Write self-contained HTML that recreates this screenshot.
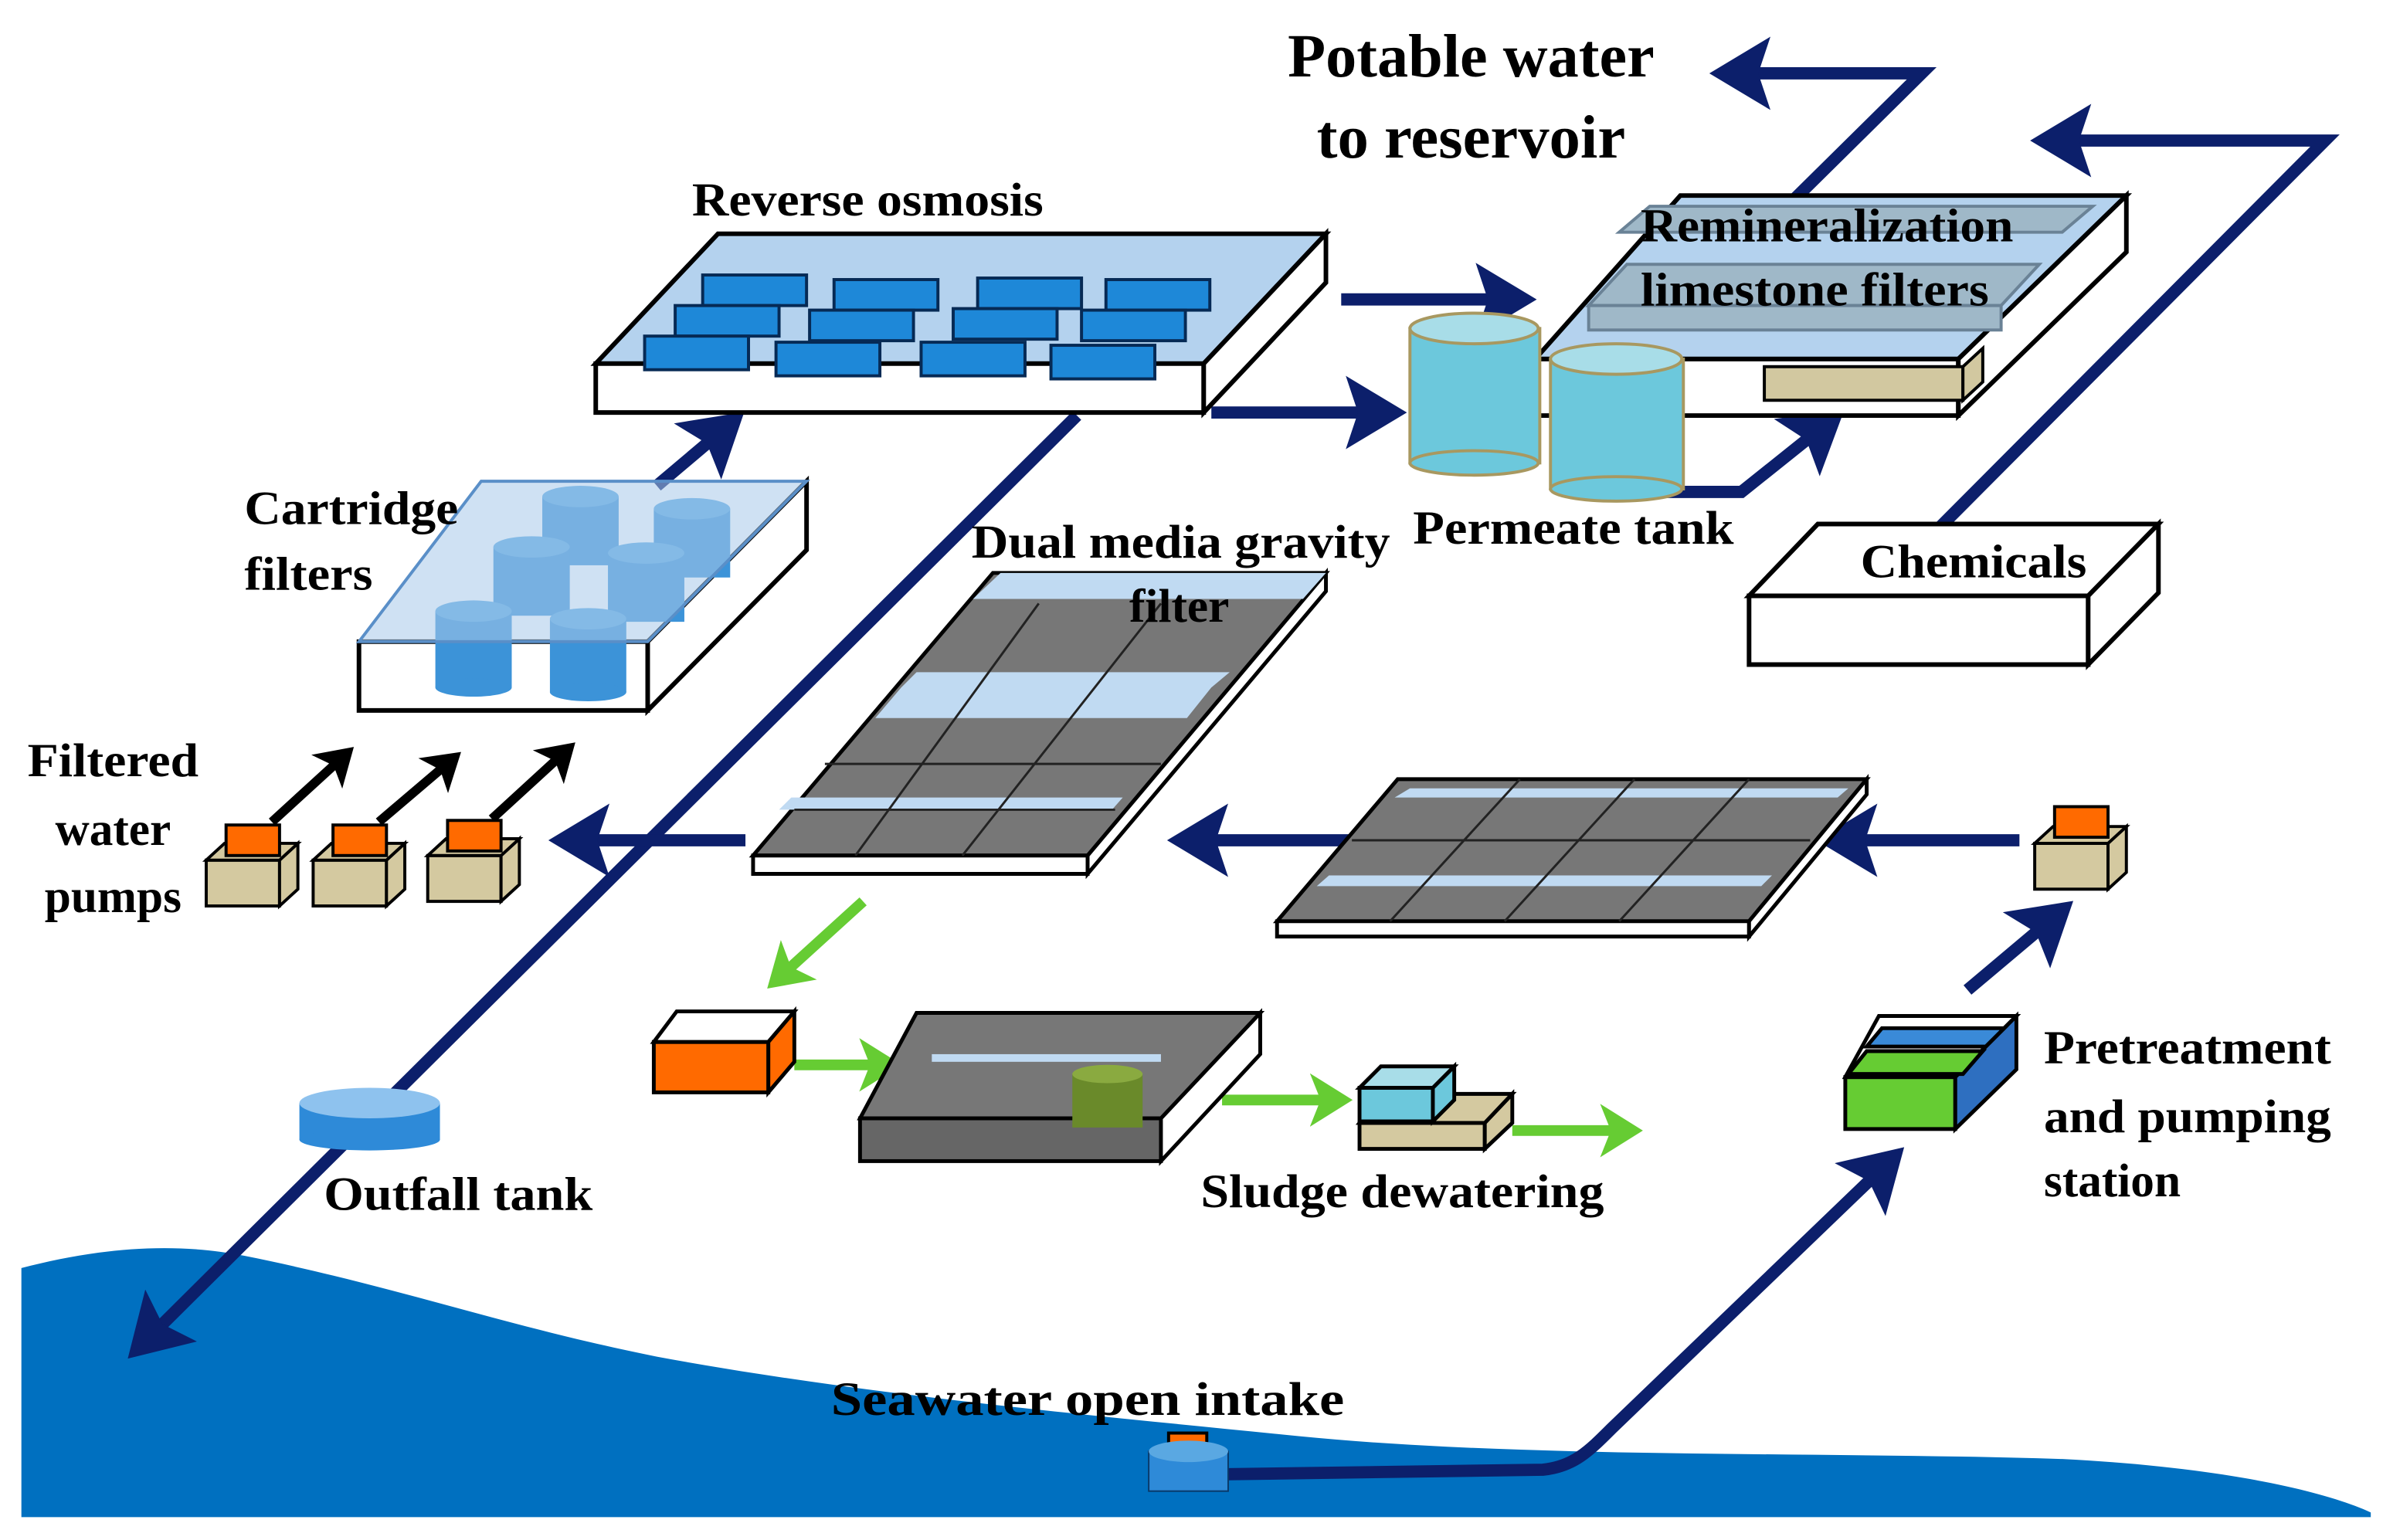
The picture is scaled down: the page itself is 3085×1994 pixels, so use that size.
<!DOCTYPE html><html><head><style>html,body{margin:0;padding:0;background:#fff}svg{display:block}text{font-family:"Liberation Serif",serif;font-weight:bold;fill:#000}</style></head><body>
<svg width="3085" height="1994" viewBox="0 0 1560 1008" preserveAspectRatio="none" xmlns="http://www.w3.org/2000/svg">
<defs>
<marker id="a" markerWidth="6" markerHeight="6" refX="3" refY="3" orient="auto" markerUnits="strokeWidth"><path d="M0,0 L5,3 L0,6 L1,3 z" fill="#0c1f6b"/></marker>
<marker id="g" markerWidth="5" markerHeight="5" refX="2.5" refY="2.5" orient="auto" markerUnits="strokeWidth"><path d="M0,0 L4,2.5 L0,5 L1,2.5 z" fill="#66cc33"/></marker>
<marker id="k" markerWidth="5" markerHeight="5" refX="2.5" refY="2.5" orient="auto" markerUnits="strokeWidth"><path d="M0,0 L4,2.5 L0,5 L1,2.5 z" fill="#000"/></marker>
</defs>
<path d="M14,830 C60,818 110,812 160,822 C260,842 330,868 430,888 C560,912 700,925 850,940 C1000,955 1200,950 1350,955 C1450,960 1520,975 1552,990 L1552,993 L14,993 Z" fill="#0070c0"/>
<g stroke="#0c1f6b" stroke-width="8" fill="none">
<path d="M705,272 L95,878" marker-end="url(#a)"/>
<path d="M1270,345 L1522,92 L1345,92" marker-end="url(#a)"/>
<path d="M1175,130 L1258,48 L1135,48" marker-end="url(#a)"/>
<path d="M800,965 L1010,962 C1030,960 1040,950 1055,935 L1235,762" marker-end="url(#a)"/>
<path d="M878,196 L990,196" marker-end="url(#a)"/>
<path d="M793,270 L905,270" marker-end="url(#a)"/>
<path d="M1090,322 L1140,322 L1195,278" marker-end="url(#a)"/>
<path d="M430,318 L475,280" marker-end="url(#a)"/>
<path d="M488,550 L375,550" marker-end="url(#a)"/>
<path d="M890,550 L780,550" marker-end="url(#a)"/>
<path d="M1322,550 L1205,550" marker-end="url(#a)"/>
<path d="M1288,648 L1345,600" marker-end="url(#a)"/>
</g>
<g stroke="#000" stroke-width="6" fill="none">
<path d="M178,538 L225,495" marker-end="url(#k)"/><path d="M248,538 L295,498" marker-end="url(#k)"/><path d="M322,536 L370,492" marker-end="url(#k)"/>
</g>
<g stroke="#66cc33" stroke-width="7" fill="none">
<path d="M565,590 L510,640" marker-end="url(#g)"/>
<path d="M520,697 L580,697" marker-end="url(#g)"/>
<path d="M800,720 L875,720" marker-end="url(#g)"/>
<path d="M990,740 L1065,740" marker-end="url(#g)"/>
</g>
<g stroke="#000" stroke-width="3">
<path d="M390,238 L470,153 L868,153 L788,238 Z" fill="#b4d2ee"/>
<path d="M390,238 L788,238 L788,270 L390,270 Z" fill="#fff"/>
<path d="M788,238 L868,153 L868,185 L788,270 Z" fill="#fff"/>
</g>
<g fill="#1e88d8" stroke="#062a55" stroke-width="2">
<rect x="460" y="180" width="68" height="20"/><rect x="546" y="183" width="68" height="20"/><rect x="640" y="182" width="68" height="20"/><rect x="724" y="183" width="68" height="20"/>
<rect x="442" y="200" width="68" height="20"/><rect x="530" y="203" width="68" height="20"/><rect x="624" y="202" width="68" height="20"/><rect x="708" y="203" width="68" height="20"/>
<rect x="422" y="220" width="68" height="22"/><rect x="508" y="224" width="68" height="22"/><rect x="603" y="224" width="68" height="22"/><rect x="688" y="226" width="68" height="22"/>
</g>
<g stroke="#000" stroke-width="3">
<path d="M235,420 L424,420 L424,465 L235,465 Z" fill="#fff"/>
<path d="M424,420 L528,315 L528,360 L424,465 Z" fill="#fff"/>
</g>
<g fill="#3c93d8">
<rect x="355" y="325" width="50" height="45"/><ellipse cx="380" cy="325" rx="25" ry="7" fill="#5aa8e2"/>
<rect x="428" y="333" width="50" height="45"/><ellipse cx="453" cy="333" rx="25" ry="7" fill="#5aa8e2"/>
<rect x="323" y="358" width="50" height="45"/><ellipse cx="348" cy="358" rx="25" ry="7" fill="#5aa8e2"/>
<rect x="398" y="362" width="50" height="45"/><ellipse cx="423" cy="362" rx="25" ry="7" fill="#5aa8e2"/>
<rect x="285" y="400" width="50" height="50"/><ellipse cx="310" cy="450" rx="25" ry="6"/><ellipse cx="310" cy="400" rx="25" ry="7" fill="#5aa8e2"/>
<rect x="360" y="405" width="50" height="48"/><ellipse cx="385" cy="453" rx="25" ry="6"/><ellipse cx="385" cy="405" rx="25" ry="7" fill="#5aa8e2"/>
</g>
<path d="M235,420 L315,315 L528,315 L424,420 Z" fill="#a8c8ea" fill-opacity="0.55" stroke="#5a8fc8" stroke-width="2"/>
<g stroke="#000" stroke-width="3">
<path d="M1005,235 L1100,128 L1392,128 L1282,235 Z" fill="#b4d2ee"/>
<path d="M1005,235 L1282,235 L1282,272 L1005,272 Z" fill="#fff"/>
<path d="M1282,235 L1392,128 L1392,165 L1282,272 Z" fill="#fff"/>
</g>
<g fill="#9fb8c8" stroke="#6a8296" stroke-width="2">
<path d="M1060,152 L1080,135 L1370,135 L1350,152 Z"/><path d="M1040,200 L1065,173 L1335,173 L1310,200 Z"/><rect x="1040" y="200" width="270" height="16"/>
</g>
<g fill="#d2c8a0" stroke="#000" stroke-width="2"><rect x="1155" y="240" width="130" height="22"/><path d="M1285,240 L1298,228 L1298,250 L1285,262Z"/></g>
<g stroke="#a89860" stroke-width="2">
<rect x="923" y="215" width="85" height="88" fill="#6cc8dc"/><ellipse cx="965" cy="303" rx="42" ry="8" fill="#6cc8dc"/><ellipse cx="965" cy="215" rx="42" ry="10" fill="#a8dde8"/>
<rect x="1015" y="235" width="87" height="85" fill="#6cc8dc"/><ellipse cx="1058" cy="320" rx="43" ry="8" fill="#6cc8dc"/><ellipse cx="1058" cy="235" rx="43" ry="10" fill="#a8dde8"/>
</g>
<g stroke="#000" stroke-width="3" fill="#fff">
<path d="M1145,390 L1190,343 L1413,343 L1367,390 Z"/><path d="M1145,390 L1367,390 L1367,435 L1145,435 Z"/><path d="M1367,390 L1413,343 L1413,388 L1367,435 Z"/>
</g>
<g stroke="#000" stroke-width="2.5">
<path d="M493,560 L650,375 L868,375 L712,560 Z" fill="#777"/>
<path d="M493,560 L712,560 L712,572 L493,572 Z" fill="#fff"/>
<path d="M712,560 L868,375 L868,387 L712,572 Z" fill="#fff"/>
</g>
<g fill="#c0daf2"><path d="M637,392 L655,375 L868,375 L853,392 Z"/><path d="M590,450 L600,440 L805,440 L793,450 Z M573,470 L590,450 L793,450 L777,470Z"/><path d="M510,530 L518,522 L735,522 L728,530 Z"/></g>
<g stroke="#222" stroke-width="1.5" fill="none"><path d="M560,560 L680,395 M630,560 L760,395 M540,500 L760,500 M520,530 L730,530"/></g>
<g stroke="#000" stroke-width="2.5">
<path d="M836,603 L915,510 L1222,510 L1145,603 Z" fill="#777"/>
<path d="M836,603 L1145,603 L1145,613 L836,613 Z" fill="#fff"/>
<path d="M1145,603 L1222,510 L1222,520 L1145,613 Z" fill="#fff"/>
</g>
<g fill="#c0daf2"><path d="M913,522 L923,516 L1210,516 L1203,522Z"/><path d="M862,580 L870,573 L1160,573 L1153,580Z"/></g>
<g stroke="#222" stroke-width="1.5" fill="none"><path d="M910,603 L995,510 M985,603 L1070,510 M1060,603 L1145,510 M885,550 L1185,550"/></g>
<g stroke="#000" stroke-width="2">
<g fill="#d4c9a0"><rect x="135" y="563" width="48" height="30"/><path d="M183,563 L195,552 L195,582 L183,593Z"/><path d="M135,563 L147,552 L195,552 L183,563Z"/>
<rect x="205" y="563" width="48" height="30"/><path d="M253,563 L265,552 L265,582 L253,593Z"/><path d="M205,563 L217,552 L265,552 L253,563Z"/>
<rect x="280" y="560" width="48" height="30"/><path d="M328,560 L340,549 L340,579 L328,590Z"/><path d="M280,560 L292,549 L340,549 L328,560Z"/>
<rect x="1332" y="552" width="48" height="30"/><path d="M1380,552 L1392,541 L1392,571 L1380,582Z"/><path d="M1332,552 L1344,541 L1392,541 L1380,552Z"/></g>
<g fill="#ff6a00"><rect x="148" y="540" width="35" height="20"/><rect x="218" y="540" width="35" height="20"/><rect x="293" y="537" width="35" height="20"/><rect x="1345" y="528" width="35" height="20"/><rect x="765" y="938" width="25" height="12"/></g>
</g>
<rect x="196" y="722" width="92" height="24" fill="#2e8ad8"/><ellipse cx="242" cy="746" rx="46" ry="7" fill="#2e8ad8"/><ellipse cx="242" cy="722" rx="46" ry="10" fill="#8ec2ee"/>
<g stroke="#000" stroke-width="2.5">
<rect x="428" y="682" width="75" height="33" fill="#ff6a00"/><path d="M428,682 L443,662 L520,662 L503,682Z" fill="#fff"/><path d="M503,682 L520,662 L520,695 L503,715Z" fill="#ff6a00"/>
<path d="M563,732 L600,663 L825,663 L760,732 Z" fill="#777"/><rect x="563" y="732" width="197" height="28" fill="#666"/><path d="M760,732 L825,663 L825,690 L760,760Z" fill="#fff"/>
<rect x="890" y="735" width="82" height="17" fill="#d4c9a0"/><path d="M972,735 L990,716 L990,735 L972,752Z" fill="#d4c9a0"/><path d="M890,735 L905,716 L990,716 L972,735Z" fill="#d4c9a0"/>
<rect x="890" y="712" width="48" height="22" fill="#6cc8dc"/><path d="M938,712 L952,698 L952,720 L938,734Z" fill="#6cc8dc"/><path d="M890,712 L904,698 L952,698 L938,712Z" fill="#a8dde8"/>
<rect x="1208" y="705" width="72" height="34" fill="#66cc33"/><path d="M1208,705 L1230,665 L1320,665 L1280,705Z" fill="#fff"/><path d="M1280,705 L1320,665 L1320,700 L1280,739Z" fill="#2e6fc0"/><path d="M1222,685 L1232,673 L1312,673 L1300,685Z" fill="#3a8ad8"/><path d="M1210,703 L1222,688 L1298,688 L1285,703Z" fill="#66cc33"/>
</g>
<rect x="610" y="690" width="150" height="5" fill="#c0daf2"/>
<rect x="702" y="703" width="46" height="35" fill="#6a8a2a"/><ellipse cx="725" cy="703" rx="23" ry="6" fill="#8aaa40"/>
<rect x="752" y="950" width="52" height="26" fill="#2e8ad8" stroke="#0a3a6a"/><ellipse cx="778" cy="950" rx="26" ry="7" fill="#5aa8e2"/>
<text x="963" y="50" font-size="40" text-anchor="middle" textLength="240" lengthAdjust="spacingAndGlyphs">Potable water</text>
<text x="963" y="103" font-size="40" text-anchor="middle" textLength="202" lengthAdjust="spacingAndGlyphs">to reservoir</text>
<g font-size="31">
<text x="568" y="141" text-anchor="middle" textLength="230" lengthAdjust="spacingAndGlyphs">Reverse osmosis</text>
<text x="1196" y="158" text-anchor="middle" textLength="244" lengthAdjust="spacingAndGlyphs">Remineralization</text>
<text x="1188" y="200" text-anchor="middle" textLength="228" lengthAdjust="spacingAndGlyphs">limestone filters</text>
<text x="160" y="343" textLength="140" lengthAdjust="spacingAndGlyphs">Cartridge</text>
<text x="160" y="386" textLength="84" lengthAdjust="spacingAndGlyphs">filters</text>
<text x="773" y="365" text-anchor="middle" textLength="274" lengthAdjust="spacingAndGlyphs">Dual media gravity</text>
<text x="772" y="407" text-anchor="middle">filter</text>
<text x="1030" y="356" text-anchor="middle" textLength="210" lengthAdjust="spacingAndGlyphs">Permeate tank</text>
<text x="1292" y="378" text-anchor="middle" textLength="148" lengthAdjust="spacingAndGlyphs">Chemicals</text>
<text x="74" y="508" text-anchor="middle" textLength="112" lengthAdjust="spacingAndGlyphs">Filtered</text>
<text x="74" y="553" text-anchor="middle">water</text>
<text x="74" y="597" text-anchor="middle">pumps</text>
<text x="1338" y="696" textLength="188" lengthAdjust="spacingAndGlyphs">Pretreatment</text>
<text x="1338" y="741" textLength="188" lengthAdjust="spacingAndGlyphs">and pumping</text>
<text x="1338" y="783">station</text>
<text x="300" y="792" text-anchor="middle" textLength="176" lengthAdjust="spacingAndGlyphs">Outfall tank</text>
<text x="918" y="790" text-anchor="middle" textLength="264" lengthAdjust="spacingAndGlyphs">Sludge dewatering</text>
<text x="712" y="926" text-anchor="middle" textLength="336" lengthAdjust="spacingAndGlyphs">Seawater open intake</text>
</g>
</svg></body></html>
